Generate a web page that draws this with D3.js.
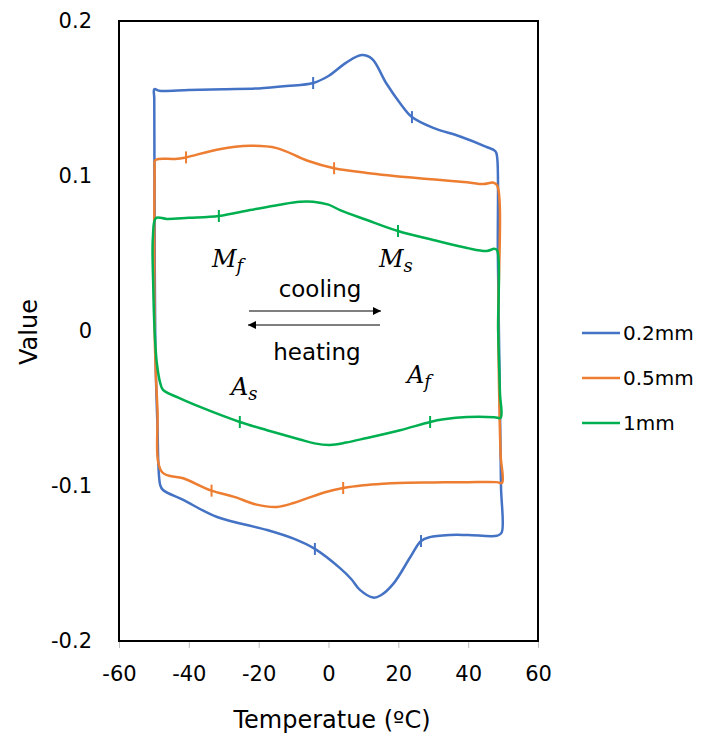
<!DOCTYPE html>
<html>
<head>
<meta charset="utf-8">
<script src="https://cdn.jsdelivr.net/npm/d3@7"></script>
<style>
  html, body { margin: 0; padding: 0; background: #fff; }
  svg { display: block; }
  text { font-family: "DejaVu Sans", "Open Sans", sans-serif; fill: #000; }
  .math { font-family: "DejaVu Serif", "Liberation Serif", serif; font-style: italic; }
</style>
</head>
<body>
<svg id="chart" width="707" height="736"></svg>
<script>
// ---------------- data ----------------
const seriesNames = ["0.2mm", "0.5mm", "1mm"];
const seriesColors = ["#4472C4", "#ED7D31", "#00B050"];

const xTicks = [-60, -40, -20, 0, 20, 40, 60];
const xTickLabels = ["-60", "-40", "-20", "0", "20", "40", "60"];
const yTicks = [0.2, 0.1, 0, -0.1, -0.2];
const yTickLabels = ["0.2", "0.1", "0", "-0.1", "-0.2"];

// 0.2mm loop (top branch left->right, right side, bottom branch right->left, left side)
const blueT = [-49.9, -48.5, -40, -30, -20, -12, -4.4, 0, 5, 9.5, 12.5, 16.5, 20.5, 23.9, 30, 37.7, 45, 47.8, 48.3,
  48.5, 49.0, 49.4, 49.6,
  48.4, 40, 34.8, 29, 26.5, 23.4, 18.6, 15, 12.8, 9, 6.5, 3.3, -3.9, -10, -17.6, -31.9, -41.6, -47.4, -48.2,
  -49.0, -49.6, -49.8, -49.9];
const blueV = [0.156, 0.155, 0.1555, 0.156, 0.1565, 0.158, 0.160, 0.1645, 0.173, 0.178, 0.1755, 0.160, 0.147, 0.138, 0.131, 0.1255, 0.119, 0.116, 0.112,
  0.05, -0.03, -0.10, -0.130,
  -0.132, -0.1316, -0.1316, -0.133, -0.1355, -0.146, -0.163, -0.1705, -0.172, -0.167, -0.160, -0.153, -0.1406, -0.1340, -0.1284, -0.120, -0.109, -0.1026, -0.0994,
  -0.06, -0.01, 0.08, 0.15];
const blueMarkT = [-4.4, 23.9, -3.9, 26.5];
const blueMarkV = [0.160, 0.138, -0.1406, -0.1355];

// 0.5mm loop
const orangeT = [-49.7, -48.5, -44, -40.8, -32, -22.5, -14.8, -6.2, 1.6, 11, 25.3, 39.7, 44.3, 47.2, 48.3,
  48.6, 49.3, 49.7,
  48.2, 40, 30, 20, 15.6, 10, 4.2, -1, -6.2, -10, -14.8, -20.6, -27, -33.5, -41.6, -47.7,
  -49.0, -49.7, -49.9, -49.8];
const orangeV = [0.110, 0.111, 0.111, 0.112, 0.117, 0.1195, 0.118, 0.110, 0.105, 0.102, 0.0987, 0.096, 0.0948, 0.0957, 0.094,
  0.0, -0.08, -0.098,
  -0.0975, -0.0975, -0.0977, -0.098, -0.0985, -0.0995, -0.1013, -0.104, -0.108, -0.111, -0.1135, -0.112, -0.107, -0.103, -0.095, -0.091,
  -0.05, -0.01, 0.05, 0.105];
const orangeMarkT = [-40.8, 1.6, -33.5, 4.2];
const orangeMarkV = [0.112, 0.105, -0.103, -0.1013];

// 1mm loop
const greenT = [-49.4, -46.3, -40, -31.4, -22.5, -14, -8.2, -4.4, 0, 3.3, 11, 19.9, 30, 39.7, 45.3, 47.5, 48.3,
  48.6, 49.1, 49.3,
  47.5, 39.7, 33, 29.1, 20.5, 11, 5, 0.4, -4, -8.2, -17.6, -25.4, -36.8, -43, -47.4, -48.2,
  -49.2, -49.8, -50.2, -50.3];
const greenV = [0.0729, 0.0723, 0.073, 0.0742, 0.078, 0.0815, 0.0834, 0.0834, 0.0815, 0.078, 0.0716, 0.0645, 0.0587, 0.0535, 0.0516, 0.0530, 0.052,
  0.0, -0.04, -0.056,
  -0.0556, -0.0555, -0.0570, -0.0587, -0.064, -0.069, -0.072, -0.0735, -0.0725, -0.070, -0.064, -0.0587, -0.049, -0.043, -0.038, -0.0335,
  -0.02, 0.0, 0.03, 0.06];
const greenMarkT = [-31.4, 19.9, -25.4, 29.1];
const greenMarkV = [0.0742, 0.0645, -0.0587, -0.0587];

const loopsT = [blueT, orangeT, greenT];
const loopsV = [blueV, orangeV, greenV];
const marksT = [blueMarkT, orangeMarkT, greenMarkT];
const marksV = [blueMarkV, orangeMarkV, greenMarkV];

// ---------------- chart ----------------
const svg = d3.select("#chart");
const pLeft = 119, pRight = 538, pTop = 21, pBottom = 641;
const x = d3.scaleLinear().domain([-60, 60]).range([pLeft, pRight]);
const y = d3.scaleLinear().domain([-0.2, 0.2]).range([pBottom, pTop]);

// x axis
const xAxis = svg.append("g").attr("transform", `translate(0,${pBottom})`)
  .call(d3.axisBottom(x).tickValues(xTicks).tickFormat((d, i) => xTickLabels[i]).tickSize(7).tickPadding(18));
xAxis.selectAll("line").attr("stroke", "#bfbfbf");
xAxis.select(".domain").attr("stroke", "#bfbfbf");
xAxis.selectAll("text").style("font-size", "21px").style("font-family", "'DejaVu Sans', sans-serif").attr("fill", "#000");

// y axis
const yAxis = svg.append("g").attr("transform", `translate(${pLeft},0)`)
  .call(d3.axisLeft(y).tickValues(yTicks).tickFormat((d, i) => yTickLabels[i]).tickSize(0).tickPadding(27));
yAxis.select(".domain").attr("stroke", "#bfbfbf");
yAxis.selectAll("text").style("font-size", "21px").style("font-family", "'DejaVu Sans', sans-serif").attr("fill", "#000");

// frame
svg.append("rect").attr("x", pLeft).attr("y", pTop).attr("width", pRight - pLeft).attr("height", pBottom - pTop)
  .attr("fill", "none").attr("stroke", "#000").attr("stroke-width", 2);

// loops
const line = d3.line().x(d => x(d[0])).y(d => y(d[1])).curve(d3.curveCatmullRomClosed.alpha(0.5));
loopsT.forEach((T, k) => {
  const pts = T.map((t, i) => [t, loopsV[k][i]]);
  svg.append("path").attr("d", line(pts)).attr("fill", "none")
    .attr("stroke", seriesColors[k]).attr("stroke-width", 2.5).attr("stroke-linejoin", "round");
  marksT[k].forEach((t, i) => {
    const px = x(t), py = y(marksV[k][i]);
    svg.append("line").attr("x1", px).attr("x2", px).attr("y1", py - 6).attr("y2", py + 6)
      .attr("stroke", seriesColors[k]).attr("stroke-width", 2);
  });
});

// annotations
function mathLabel(px, py, main, sub) {
  const t = svg.append("text").attr("class", "math").attr("x", px).attr("y", py).style("font-size", "24px");
  t.append("tspan").text(main);
  t.append("tspan").attr("dy", 5).style("font-size", "18px").text(sub);
}
mathLabel(212, 267, "M", "f");
mathLabel(379, 267, "M", "s");
mathLabel(231, 395, "A", "s");
mathLabel(407, 383, "A", "f");

svg.append("text").attr("x", 320).attr("y", 297).attr("text-anchor", "middle").style("font-size", "23px").text("cooling");
svg.append("text").attr("x", 317).attr("y", 360).attr("text-anchor", "middle").style("font-size", "23px").text("heating");

const defs = svg.append("defs");
defs.append("marker").attr("id", "arr").attr("viewBox", "0 0 10 10").attr("refX", 10).attr("refY", 5)
  .attr("markerWidth", 11).attr("markerHeight", 8).attr("markerUnits", "userSpaceOnUse").attr("orient", "auto")
  .append("path").attr("d", "M0,0L10,5L0,10Z").attr("fill", "#000");
svg.append("line").attr("x1", 249).attr("x2", 381).attr("y1", 311).attr("y2", 311)
  .attr("stroke", "#000").attr("stroke-width", 1.2).attr("marker-end", "url(#arr)");
svg.append("line").attr("x1", 380).attr("x2", 248).attr("y1", 325).attr("y2", 325)
  .attr("stroke", "#000").attr("stroke-width", 1.2).attr("marker-end", "url(#arr)");

// axis titles
svg.append("text").attr("transform", "translate(37,332) rotate(-90)").attr("text-anchor", "middle")
  .style("font-size", "24px").text("Value");
svg.append("text").attr("x", 332).attr("y", 728).attr("text-anchor", "middle")
  .style("font-size", "24px").text("Temperatue (ºC)");

// legend
seriesNames.forEach((name, i) => {
  const ly = 333 + i * 45;
  svg.append("line").attr("x1", 582).attr("x2", 620).attr("y1", ly).attr("y2", ly)
    .attr("stroke", seriesColors[i]).attr("stroke-width", 2.5);
  svg.append("text").attr("x", 623).attr("y", ly).attr("dy", "0.36em").style("font-size", "20px").text(name);
});
</script>
</body>
</html>
